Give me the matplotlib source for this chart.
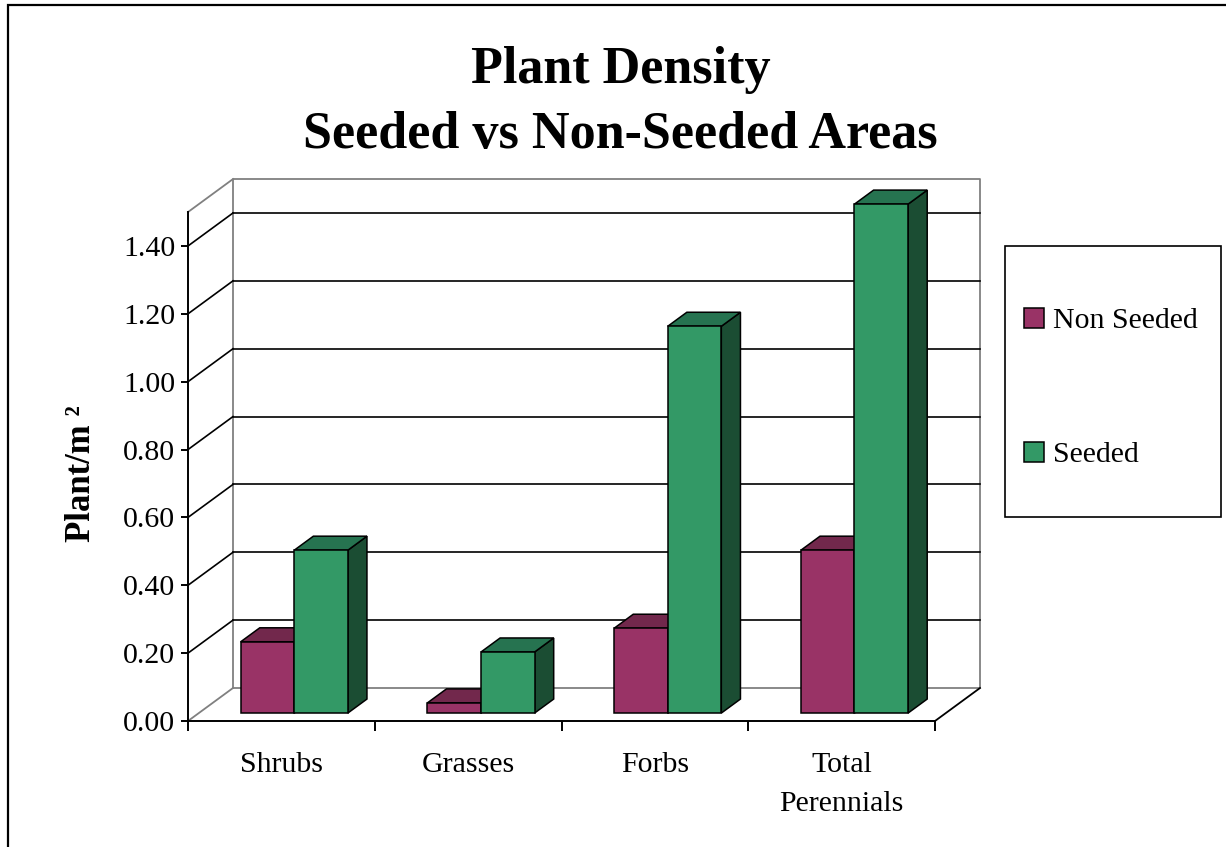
import matplotlib
matplotlib.use("Agg")
import matplotlib.pyplot as plt
from matplotlib.patches import Polygon, Rectangle, Patch

plt.rcParams['font.family'] = ['Liberation Serif', 'DejaVu Serif']

# data
categories = ["Shrubs", "Grasses", "Forbs", "Total\nPerennials"]
non_seeded = [0.21, 0.03, 0.25, 0.48]
seeded = [0.48, 0.18, 1.14, 1.50]
series_names = ["Non Seeded", "Seeded"]
yticks = [0.0, 0.2, 0.4, 0.6, 0.8, 1.0, 1.2, 1.4]
ytop = 1.5

# colours: front, top, side
pink = ("#993366", "#72284c", "#4d1a33")
green = ("#339966", "#267350", "#1b4d33")

W, H = 1226, 847
# pixel mapping of the chart (front plane)
X0PX, XSC = 188, 186.75
Y0PX, YSC = 721, 339.3
xlim = (-0.3, 4.3)
ylim = (-0.12, 1.65)

# oblique depth of the box, in data units
DX = 45 / XSC
DY = 33 / YSC
zf, zb = 0.24, 0.665   # bar front / back depth
bw = 0.287              # bar width
xoff = 0.011

fig = plt.figure(figsize=(W / 100, H / 100), dpi=100)
left = X0PX + xlim[0] * XSC
right = X0PX + xlim[1] * XSC
bot = Y0PX - ylim[0] * YSC
top = Y0PX - ylim[1] * YSC
ax = fig.add_axes([left / W, (H - bot) / H, (right - left) / W, (bot - top) / H])
ax.set_xlim(*xlim)
ax.set_ylim(*ylim)
ax.patch.set_visible(False)

ncat = len(categories)
gray = "#808080"

# walls: gray outline
ax.plot([DX, DX, ncat + DX, ncat + DX, DX], [DY, ytop + DY, ytop + DY, DY, DY],
        color=gray, lw=1.3, zorder=1)
ax.plot([0, DX], [ytop, ytop + DY], color=gray, lw=1.3, zorder=1)
ax.plot([0, DX], [0, DY], color=gray, lw=1.3, zorder=1)
ax.plot([ncat, ncat + DX], [0, DY], color="black", lw=1.3, zorder=1)

# gridlines on back and side walls
for y in yticks[1:]:
    ax.plot([DX, ncat + DX], [y + DY, y + DY], color="black", lw=1.2, zorder=1)
    ax.plot([0, DX], [y, y + DY], color="black", lw=1.2, zorder=1)


def draw_bar(xl, v, cols):
    x0 = xl + zf * DX + xoff
    y0 = zf * DY
    ddx = (zb - zf) * DX
    ddy = (zb - zf) * DY
    ax.add_patch(Polygon([(x0 + bw, y0), (x0 + bw + ddx, y0 + ddy),
                          (x0 + bw + ddx, y0 + v + ddy), (x0 + bw, y0 + v)],
                         closed=True, fc=cols[2], ec="black", lw=1.1, zorder=3))
    ax.add_patch(Polygon([(x0, y0 + v), (x0 + bw, y0 + v),
                          (x0 + bw + ddx, y0 + v + ddy), (x0 + ddx, y0 + v + ddy)],
                         closed=True, fc=cols[1], ec="black", lw=1.1, zorder=3))
    ax.add_patch(Rectangle((x0, y0), bw, v, fc=cols[0], ec="black", lw=1.1, zorder=3))


for i in range(ncat):
    c = i + 0.5
    draw_bar(c - bw, non_seeded[i], pink)
    draw_bar(c, seeded[i], green)

# axes
for s in ["top", "right"]:
    ax.spines[s].set_visible(False)
ax.spines["left"].set_position(("data", 0))
ax.spines["left"].set_bounds(0, ytop)
ax.spines["bottom"].set_position(("data", 0))
ax.spines["bottom"].set_bounds(0, ncat)
for s in ["left", "bottom"]:
    ax.spines[s].set_linewidth(1.4)
    ax.spines[s].set_zorder(4)

ax.set_yticks(yticks)
ax.set_yticklabels(["%.2f" % t for t in yticks])
ax.tick_params(axis="y", length=5, width=1.4, pad=4, labelsize=21.5)
ax.set_xticks(range(ncat + 1))
ax.set_xticklabels([])
ax.tick_params(axis="x", which="major", length=7, width=1.4, direction="out")
ax.set_xticks([i + 0.5 for i in range(ncat)], minor=True)
ax.set_xticklabels(categories, minor=True)
ax.tick_params(axis="x", which="minor", length=0, pad=22, labelsize=21.5)
for t in ax.get_xticklabels(minor=True):
    t.set_linespacing(1.65)

# titles and y label
fig.text(621 / W, 1 - 70 / H, "Plant Density", ha="center", va="center",
         fontsize=37.5, fontweight="bold")
fig.text(620 / W, 1 - 135 / H, "Seeded vs Non-Seeded Areas", ha="center", va="center",
         fontsize=37.5, fontweight="bold")
fig.text(82 / W, 1 - 474 / H, "Plant/m \u00b2", rotation=90, ha="center", va="center",
         fontsize=25, fontweight="bold")

# legend with its own box
fig.add_artist(Rectangle((1005 / W, 1 - 517 / H), 216 / W, 271 / H, transform=fig.transFigure,
                         fill=False, ec="black", lw=1.2))
handles = [Patch(fc=pink[0], ec="black", lw=1.1), Patch(fc=green[0], ec="black", lw=1.1)]
fig.legend(handles, series_names, loc="center left", bbox_to_anchor=(1009 / W, 1 - 388 / H),
           frameon=False, fontsize=21.5, handlelength=0.68, handleheight=0.68,
           handletextpad=0.3, labelspacing=3.6, borderpad=0)

# outer frame
fig.add_artist(Rectangle((8 / W, -0.1), 1.2, 1.1 - 5 / H, transform=fig.transFigure,
                         fill=False, ec="black", lw=1.6))

fig.savefig("out.png", dpi=100)
